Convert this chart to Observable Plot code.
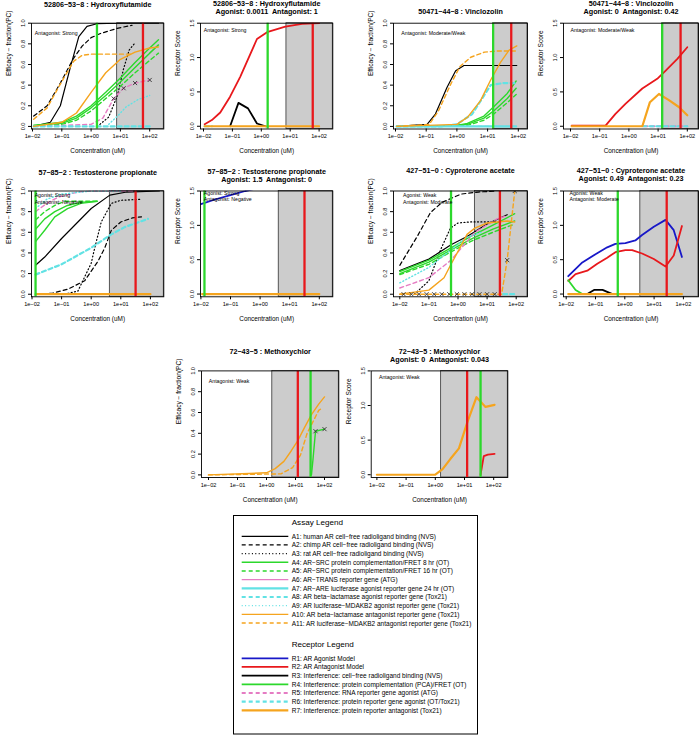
<!DOCTYPE html>
<html><head><meta charset="utf-8">
<script src="https://cdn.jsdelivr.net/npm/d3@7"></script>
<script src="https://cdn.jsdelivr.net/npm/@observablehq/plot@0.6"></script>
<style>
body{margin:0;background:#fff;}
#wrap{position:relative;width:700px;height:735px;overflow:hidden;font-family:"Liberation Sans",Arial,sans-serif;}
#wrap svg{position:absolute;left:0;top:0;}
</style></head><body><div id="wrap"></div>
<script>
// ---------- DATA (x = log10 concentration uM, y = value) ----------
// 52806-53-8 Hydroxyflutamide : efficacy
const hfA1 = [[-1.96,0],[-1.39,0.04],[-1.05,0.2],[-0.72,0.56],[-0.42,0.87],[-0.14,0.97],[0.2,0.995],[0.9,1],[2.3,1]];
const hfA2 = [[-1.96,0.1],[-1.5,0.2],[-1.05,0.42],[-0.6,0.66],[-0.3,0.78],[0,0.86],[0.32,0.9],[0.89,0.95],[1.4,0.98]];
const hfA3 = [[0.3,0.02],[0.6,0.09],[0.9,0.3],[1.1,0.55],[1.3,0.74],[1.5,0.81]];
const hfA4 = [[-1.96,0.01],[-1,0.04],[-0.5,0.1],[0,0.2],[0.5,0.33],[1,0.47],[1.5,0.62],[2.0,0.76],[2.3,0.84]];
const hfA4b = [[-1.96,0.01],[-1,0.03],[-0.5,0.08],[0,0.18],[0.5,0.3],[1,0.43],[1.5,0.57],[2.0,0.71],[2.3,0.79]];
const hfA5 = [[-1.96,0],[-1,0.02],[-0.5,0.06],[0,0.15],[0.5,0.27],[1,0.39],[1.5,0.52],[2.0,0.64],[2.3,0.71]];
const hfA6 = [[-1.96,0],[0,0.02],[0.4,0.08],[0.77,0.27],[1.11,0.37],[1.5,0.42],[2.0,0.45]];
const hfA6pts = [[0.77,0.27],[1.11,0.37],[1.5,0.42],[2.0,0.45]];
const hfA8 = [[-1.96,0],[2.0,0]];
const hfA9 = [[0.6,0.02],[0.9,0.1],[1.2,0.19],[1.6,0.26],[2.0,0.3]];
const hfA10 = [[-1.96,0],[-1,0.04],[-0.5,0.13],[0,0.33],[0.5,0.52],[1.0,0.65],[1.5,0.72],[2.0,0.76],[2.3,0.77]];
const hfA11 = [[-1.96,0.07],[-1.5,0.18],[-1.05,0.41],[-0.6,0.63],[-0.3,0.69],[0,0.7],[0.5,0.7],[1.0,0.7],[1.4,0.7]];
// Hydroxyflutamide : receptor
const hfR2 = [[-1.96,0.03],[-1.71,0.09],[-1.42,0.2],[-1.08,0.43],[-0.73,0.72],[-0.15,1.27],[0.2,1.37],[0.83,1.45],[1.41,1.49],[2.0,1.5]];
const hfR3 = [[-1.08,0],[-0.79,0.34],[-0.46,0.26],[-0.15,0.04],[0.14,0]];
const hfR6 = [[-1.96,0],[-1.7,0]];
const hfR7 = [[-1.96,0],[2.0,0]];
// 50471-44-8 Vinclozolin : efficacy
const vinA1 = [[-1.96,0],[-0.97,0.02],[-0.7,0.12],[-0.32,0.38],[-0.04,0.54],[0.23,0.59],[1.95,0.59]];
const vinA4 = [[-1.96,0],[0,0.01],[0.34,0.03],[0.88,0.1],[1.2,0.19],[1.64,0.32],[1.93,0.44]];
const vinA4b = [[-1.96,0],[0,0.01],[0.34,0.02],[0.88,0.08],[1.2,0.15],[1.64,0.27],[1.93,0.37]];
const vinA5 = [[-1.96,0],[0.34,0.01],[0.88,0.06],[1.2,0.12],[1.64,0.23],[1.93,0.31]];
const vinA6 = [[0,0],[1.93,0]];
const vinA7 = [[-1.96,0],[1.93,0]];
const vinA8 = [[-1.96,0],[-0.5,0],[0,0.02],[0.5,0.12],[0.8,0.26],[1.1,0.4],[1.5,0.42],[1.93,0.42]];
const vinA10 = [[-1.96,0],[0,0.02],[0.35,0.09],[0.77,0.25],[1.1,0.45],[1.42,0.62],[1.7,0.74],[1.95,0.78]];
const vinA11 = [[-1.96,0],[-0.9,0.02],[-0.6,0.15],[-0.2,0.41],[0.1,0.58],[0.45,0.67],[0.9,0.72],[1.3,0.73],[1.95,0.73]];
// Vinclozolin : receptor
const vinR2 = [[-1.96,0.01],[-0.8,0.01],[-0.46,0.18],[-0.11,0.33],[0.46,0.55],[0.97,0.69],[1.26,0.81],[1.66,0.98],[2.0,1.15]];
const vinR7 = [[-1.96,0],[0.46,0],[0.72,0.35],[1.03,0.47],[1.37,0.38],[1.71,0.28],[2.0,0.16]];
const vinR5 = [[0.5,0],[2.0,0]];
const vinR6 = [[0.46,0],[2.0,0]];
// 57-85-2 Testosterone propionate : efficacy
const tpA1 = [[-1.88,0.28],[-1.57,0.36],[-1.0,0.54],[-0.45,0.7],[0.0,0.83],[0.63,0.96],[1.2,0.99],[2.3,1.0]];
const tpA2 = [[-1.88,0],[-1.3,0.01],[-0.78,0.05],[-0.22,0.13],[0.23,0.32],[0.46,0.45],[0.68,0.62],[1.0,0.7],[1.4,0.74],[1.7,0.75]];
const tpA3 = [[-0.9,0],[-0.45,0.03],[0.0,0.3],[0.12,0.45],[0.34,0.7],[0.68,0.88],[1.0,0.91],[1.7,0.92]];
const tpA4 = [[-1.88,0.51],[-1.57,0.62],[-1.23,0.75],[-0.8,0.83],[-0.35,0.88],[0.2,0.9]];
const tpA4b = [[-1.88,0.63],[-1.57,0.73],[-1.23,0.8],[-0.8,0.86],[-0.35,0.89],[0.2,0.9]];
const tpA5 = [[-1.88,0.72],[-1.57,0.8],[-1.23,0.86],[-0.9,0.9],[0.2,0.9]];
const tpA6 = [[-1.88,0.8],[-1.5,0.88],[-1.12,0.94],[-0.45,0.99],[0,1.0],[1.5,1.0]];
const tpA8 = [[-1.88,0.19],[-1.0,0.29],[0.0,0.45],[0.68,0.58],[1.13,0.65],[1.92,0.73]];
const tpA9 = [[-1.88,0.83],[-1.5,0.92],[-1.0,0.97],[0,1.0],[1.0,1.0]];
const tpA10 = [[-1.88,0],[2.0,0]];
// Testosterone propionate : receptor
const tpR1 = [[-2.0,1.31],[-1.5,1.38],[-1.0,1.44],[-0.5,1.5],[0,1.55]];
const tpR7 = [[-1.96,0],[2.0,0]];
// 427-51-0 Cyproterone acetate : efficacy
const cyA1 = [[-2,0.23],[-1,0.34],[-0.24,0.48],[0.31,0.56],[1.0,0.68],[1.69,0.77]];
const cyA2 = [[-2,0.28],[-1.4,0.56],[-0.95,0.79],[-0.55,0.89],[0.1,0.97],[0.7,0.99],[1.3,1.0]];
const cyA3 = [[-1.5,0],[-1.0,0.13],[-0.6,0.43],[-0.26,0.64],[0.0,0.69],[0.4,0.7],[1.3,0.7]];
const cyA4 = [[-2,0.22],[-1,0.33],[-0.24,0.45],[0.5,0.57],[1.2,0.67],[1.95,0.78]];
const cyA4b = [[-2,0.2],[-1,0.31],[-0.24,0.43],[0.5,0.54],[1.2,0.63],[1.95,0.71]];
const cyA5 = [[-2,0.19],[-1,0.29],[-0.24,0.41],[0.5,0.52],[1.2,0.6],[1.95,0.68]];
const cyA6 = [[-2,0.06],[-1,0.16],[-0.24,0.33],[0.58,0.6],[1.34,0.73],[1.69,0.76]];
const cyA8 = [[1.55,0],[2.0,0]];
const cyA9 = [[-2,0.11],[-1,0.26],[-0.24,0.43],[0.3,0.55],[0.8,0.6]];
const cyA10 = [[-2,0],[-1,0.04],[-0.48,0.16],[-0.24,0.29],[0.03,0.43],[0.31,0.58],[0.58,0.64],[1.0,0.69],[1.69,0.71],[1.95,0.7]];
const cyA11 = [[-2,0],[1.5,0],[1.69,0.33],[1.95,1.0]];
const cyA11pts = [[-1.87,0],[-1.6,0],[-1.34,0],[-1.08,0],[-0.82,0],[-0.56,0],[-0.3,0],[-0.04,0],[0.22,0],[0.48,0],[0.74,0],[1.0,0],[1.26,0],[1.69,0.33],[1.95,1.0]];
// Cyproterone acetate : receptor
const cyR1 = [[-1.93,0.26],[-1.45,0.46],[-1.0,0.58],[-0.6,0.68],[-0.32,0.73],[0.02,0.74],[0.36,0.78],[0.59,0.86],[0.99,0.98],[1.39,1.08],[1.67,0.93],[1.95,0.54]];
const cyR2 = [[-1.93,0.19],[-1.68,0.29],[-1.28,0.34],[-0.94,0.44],[-0.6,0.53],[-0.32,0.61],[0.02,0.64],[0.25,0.64],[0.59,0.59],[0.99,0.51],[1.39,0.4],[1.67,0.56],[1.95,0.99]];
const cyR3 = [[-1.28,0],[-1.05,0.06],[-0.76,0.06],[-0.42,0]];
const cyR4 = [[-1.93,0.2],[-1.68,0.06],[-1.45,0],[-1.2,0]];
const cyR7 = [[-1.93,0],[1.95,0]];
// 72-43-5 Methoxychlor : efficacy
const mxA4 = [[1.55,0],[1.6,0.14],[1.69,0.42],[2.0,0.44]];
const mxA4pts = [[1.69,0.42],[2.0,0.44]];
const mxA10 = [[-2,0],[0,0.02],[0.3,0.06],[0.6,0.13],[0.85,0.23],[1.08,0.33],[1.3,0.45],[1.55,0.58],[1.8,0.68],[2.0,0.75]];
const mxA11 = [[-2,0],[0.5,0.01],[0.9,0.07],[1.17,0.19],[1.4,0.4],[1.8,0.62],[1.9,0.64]];
// Methoxychlor : receptor
const mxR2 = [[1.55,0],[1.66,0.27],[1.8,0.29],[2.03,0.3]];
const mxR7 = [[-2,0],[0.0,0],[0.25,0.08],[0.52,0.23],[0.81,0.38],[1.09,0.75],[1.41,1.12],[1.72,0.98],[2.03,1.01]];

// ---------- labels ----------
const xTicks = [-2,-1,0,1,2];
const effTicks = [0,0.2,0.4,0.6,0.8,1.0];
const recTicks = [0,0.5,1.0,1.5];
const assayLegend = [
 ["A1","A1: human AR cell\u2212free radioligand binding (NVS)"],
 ["A2","A2: chimp AR cell\u2212free radioligand binding (NVS)"],
 ["A3","A3: rat AR cell\u2212free radioligand binding (NVS)"],
 ["A4","A4: AR\u2212SRC protein complementation/FRET 8 hr (OT)"],
 ["A5","A5: AR\u2212SRC protein complementation/FRET 16 hr (OT)"],
 ["A6","A6: AR\u2212TRANS reporter gene (ATG)"],
 ["A7","A7: AR\u2212ARE luciferase agonist reporter gene 24 hr (OT)"],
 ["A8","A8: AR beta\u2212lactamase agonist reporter gene (Tox21)"],
 ["A9","A9: AR luciferase\u2212MDAKB2 agonist reporter gene (Tox21)"],
 ["A10","A10: AR beta\u2212lactamase antagonist reporter gene (Tox21)"],
 ["A11","A11: AR luciferase\u2212MDAKB2 antagonist reporter gene (Tox21)"]];
const receptorLegend = [
 ["R1","R1: AR Agonist Model"],
 ["R2","R2: AR Antagonist Model"],
 ["R3","R3: Interference: cell\u2212free radioligand binding (NVS)"],
 ["R4","R4: Interference: protein complementation (PCA)/FRET (OT)"],
 ["R5","R5: Interference: RNA reporter gene agonist (ATG)"],
 ["R6","R6: Interference: protein reporter gene agonist (OT/Tox21)"],
 ["R7","R7: Interference: protein reporter antagonist (Tox21)"]];

// ---------- styles ----------
const COL = {black:"#000000", green:"#2cd82c", pink:"#e57cc3", cyan:"#62e2e4", orange:"#f5a41e", red:"#e8181c", blue:"#1818c8"};
const STY = {
 A1:{c:COL.black,w:1.2}, A2:{c:COL.black,w:1.2,d:"4,3"}, A3:{c:COL.black,w:1.2,d:"1,2.4"},
 A4:{c:COL.green,w:1.4}, A5:{c:COL.green,w:1.4,d:"4,3"}, A4s:{c:COL.green,w:1.4},
 A6:{c:COL.pink,w:1.4}, A6d:{c:COL.pink,w:1.4,d:"4,3"},
 A7:{c:COL.cyan,w:2.2}, A8:{c:COL.cyan,w:2.2,d:"4,3"}, A9:{c:COL.cyan,w:1.4,d:"1,2.4"},
 A10:{c:COL.orange,w:1.4}, A11:{c:COL.orange,w:1.4,d:"4,3"}, A10t:{c:COL.orange,w:2.2},
 R1:{c:COL.blue,w:1.8}, R2:{c:COL.red,w:1.8}, R3:{c:COL.black,w:1.8}, R4:{c:COL.green,w:1.8},
 R5:{c:COL.pink,w:1.8,d:"4,3"}, R6:{c:COL.cyan,w:2.2,d:"4,3"}, R7:{c:COL.orange,w:2.2}
};

// ---------- panel layout ----------
const panels = [
 {kind:"eff",L:31,R:163.3,T:22.7,B:128.5,t0:32,ppd:29.3,tdy:-19,title:["52806\u221253\u22128 : Hydroxyflutamide"],notes:["Antagonist: Strong"],nx:-1.92,cut:0.89,g:0.2,r:1.77,
  s:[["A1",hfA1],["A2",hfA2],["A3",hfA3],["A4",hfA4],["A4s",hfA4b],["A5",hfA5],["A6d",hfA6],["A8",hfA8],["A9",hfA9],["A10",hfA10],["A11",hfA11]],pts:[hfA6pts]},
 {kind:"rec",L:200,R:332.3,T:22.7,B:128.5,t0:203,ppd:28.9,tdy:-19.5,title:["52806\u221253\u22128 : Hydroxyflutamide","Agonist: 0.0011  Antagonist: 1"],notes:["Antagonist: Strong"],nx:-1.99,cut:0.87,g:0.22,r:1.78,
  s:[["R2",hfR2],["R3",hfR3],["R6",hfR6],["R7",hfR7]]},
 {kind:"eff",L:393,R:527,T:22.7,B:128.5,t0:395,ppd:30.7,tdy:-11.5,title:["50471\u221244\u22128 : Vinclozolin"],notes:["Antagonist: Moderate/Weak"],nx:-1.81,cut:1.18,g:1.18,r:1.77,
  s:[["A1",vinA1],["A4",vinA4],["A4s",vinA4b],["A5",vinA5],["A6d",vinA6],["A7",vinA7],["A8",vinA8],["A10",vinA10],["A11",vinA11]]},
 {kind:"rec",L:563,R:698,T:22.7,B:128.5,t0:570,ppd:29.2,tdy:-19.5,title:["50471\u221244\u22128 : Vinclozolin","Agonist: 0  Antagonist: 0.42"],notes:["Antagonist: Moderate/Weak"],nx:-2.0,cut:1.14,g:1.14,r:1.77,
  s:[["R2",vinR2],["R5",vinR5],["R6",vinR6],["R7",vinR7]]},
 {kind:"eff",L:31,R:163.3,T:190.5,B:296.3,t0:31.5,ppd:29.6,tdy:-18,title:["57\u221285\u22122 : Testosterone propionate"],notes:["Agonist: Strong","Antagonist: Negative"],nx:-1.91,cut:0.63,g:-1.88,r:1.5,
  s:[["A1",tpA1],["A2",tpA2],["A3",tpA3],["A4",tpA4],["A4s",tpA4b],["A5",tpA5],["A6d",tpA6],["A8",tpA8],["A9",tpA9],["A10t",tpA10]]},
 {kind:"rec",L:200,R:332.3,T:190.5,B:296.3,t0:200.4,ppd:29.6,tdy:-19.5,title:["57\u221285\u22122 : Testosterone propionate","Agonist: 1.5  Antagonist: 0"],notes:["Agonist: Strong","Antagonist: Negative"],nx:-1.9,cut:0.63,g:-1.88,r:1.5,
  s:[["R1",tpR1],["R7",tpR7]]},
 {kind:"eff",L:393,R:527,T:190.5,B:296.3,t0:399.3,ppd:29.1,tdy:-20,title:["427\u221251\u22120 : Cyproterone acetate"],notes:["Agonist: Weak","Antagonist: Moderate"],nx:-1.89,cut:0.58,g:-0.24,r:1.44,
  s:[["A1",cyA1],["A2",cyA2],["A3",cyA3],["A4",cyA4],["A4s",cyA4b],["A5",cyA5],["A6d",cyA6],["A8",cyA8],["A9",cyA9],["A10",cyA10],["A11",cyA11]],pts:[cyA11pts]},
 {kind:"rec",L:563,R:698,T:190.5,B:296.3,t0:565.7,ppd:29.3,tdy:-20.5,title:["427\u221251\u22120 : Cyproterone acetate","Agonist: 0.49  Antagonist: 0.23"],notes:["Agonist: Weak","Antagonist: Moderate"],nx:-1.89,cut:0.53,g:-0.24,r:1.43,
  s:[["R1",cyR1],["R2",cyR2],["R3",cyR3],["R4",cyR4],["R7",cyR7]]},
 {kind:"eff",L:201,R:338.3,T:370.4,B:477,t0:208,ppd:29.0,tdy:-19,title:["72\u221243\u22125 : Methoxychlor"],notes:["Antagonist: Weak"],nx:-1.99,cut:0.2,g:1.52,r:1.08,
  s:[["A4",mxA4],["A10",mxA10],["A11",mxA11]],pts:[mxA4pts]},
 {kind:"rec",L:370.7,R:507.3,T:370.4,B:477,t0:376.4,ppd:29.2,tdy:-19,title:["72\u221243\u22125 : Methoxychlor","Agonist: 0  Antagonist: 0.043"],notes:["Antagonist: Weak"],nx:-1.93,cut:0.2,g:1.55,r:1.09,
  s:[["R2",mxR2],["R7",mxR7]]}
];

const FONT = "'Liberation Sans', Arial, Helvetica, sans-serif";
const fmtX = d => "1e" + (d < 0 ? "\u2212" : "+") + String(Math.abs(d)).padStart(2, "0");
const wrap = document.getElementById("wrap");

function drawPanel(p) {
  const rec = p.kind === "rec";
  const xd = [(p.L - p.t0) / p.ppd - 2, (p.R - p.t0) / p.ppd - 2];
  const yd = rec ? [-0.04, 1.5] : [-0.025, 1.0];
  const yt = rec ? recTicks : effTicks;
  const marks = [
    Plot.rect([p.cut], {x1: d => d, x2: () => xd[1], y1: () => yd[0], y2: () => yd[1], fill: "#cccccc", stroke: "#333", strokeWidth: 0.8})
  ];
  for (const [k, data] of p.s) {
    const st = STY[k];
    marks.push(Plot.line(data, {x: d => d[0], y: d => d[1], stroke: st.c, strokeWidth: st.w, strokeDasharray: st.d, clip: true}));
  }
  for (const pts of (p.pts || [])) {
    marks.push(Plot.dot(pts, {x: d => d[0], y: d => d[1], symbol: "times", r: 2, stroke: "#333", strokeWidth: 0.9, clip: true}));
  }
  marks.push(Plot.ruleX([p.g], {x: d => d, stroke: COL.green, strokeWidth: 2.3}));
  marks.push(Plot.ruleX([p.r], {x: d => d, stroke: COL.red, strokeWidth: 2.3}));
  marks.push(Plot.frame({stroke: "#000", strokeWidth: 0.9}));
  marks.push(Plot.axisX({ticks: xTicks, tickFormat: fmtX, tickSize: 3, tickPadding: 2.5, fontSize: 5.6, label: null}));
  marks.push(Plot.axisY({ticks: yt, tickFormat: () => "", tickSize: 3, label: null}));
  marks.push(Plot.text(yt, {y: d => d, text: d => d.toFixed(1), frameAnchor: "left", dx: -8, rotate: -90, fontSize: 5.6, textAnchor: "middle", lineAnchor: "middle"}));
  marks.push(Plot.text(["Concentration (uM)"], {text: d => d, frameAnchor: "bottom", dy: 22, fontSize: 6.4, lineAnchor: "middle"}));
  marks.push(Plot.text([rec ? "Receptor Score" : "Efficacy \u2212 fraction(PC)"], {text: d => d, frameAnchor: "left", dx: -22.5, rotate: -90, fontSize: 6.6, lineAnchor: "middle"}));
  p.title.forEach((t, i) => {
    marks.push(Plot.text([t], {text: d => d, frameAnchor: "top", dy: p.tdy + i * 8, fontSize: 7.2, fontWeight: "bold", lineAnchor: "middle"}));
  });
  const ny = rec ? (p.notes.length > 1 ? [1.47, 1.38] : [1.4]) : (p.notes.length > 1 ? [0.955, 0.89] : [0.9]);
  p.notes.forEach((t, i) => {
    marks.push(Plot.text([t], {x: () => p.nx, y: () => ny[i], text: d => d, textAnchor: "start", fontSize: 5.2, lineAnchor: "middle"}));
  });
  const svg = Plot.plot({
    width: 700, height: 735,
    marginLeft: p.L, marginRight: 700 - p.R, marginTop: p.T, marginBottom: 735 - p.B,
    x: {domain: xd}, y: {domain: yd},
    style: {fontFamily: FONT, background: "transparent", overflow: "visible", color: "#000"},
    marks
  });
  wrap.appendChild(svg);
}
panels.forEach(drawPanel);

// ---------- legend ----------
const leg = d3.create("svg").attr("width", 700).attr("height", 735)
  .style("font-family", FONT);
leg.append("rect").attr("x", 233.5).attr("y", 515.5).attr("width", 244).attr("height", 218.5)
  .attr("fill", "none").attr("stroke", "#000").attr("stroke-width", 1);
function legendBlock(title, ty, items, y0) {
  leg.append("text").attr("x", 291.7).attr("y", ty).attr("dominant-baseline", "central")
    .attr("font-size", 8.1).text(title);
  items.forEach(([k, label], i) => {
    const y = y0 + i * 8.67;
    const st = STY[k];
    leg.append("line").attr("x1", 241.7).attr("x2", 288.3).attr("y1", y).attr("y2", y)
      .attr("stroke", st.c).attr("stroke-width", st.w).attr("stroke-dasharray", st.d || null);
    leg.append("text").attr("x", 291.7).attr("y", y).attr("dominant-baseline", "central")
      .attr("font-size", 6.5).text(label);
  });
}
legendBlock("Assay Legend", 522.3, assayLegend, 536.3);
legendBlock("Receptor Legend", 644, receptorLegend, 658.3);
wrap.appendChild(leg.node());
</script></body></html>
